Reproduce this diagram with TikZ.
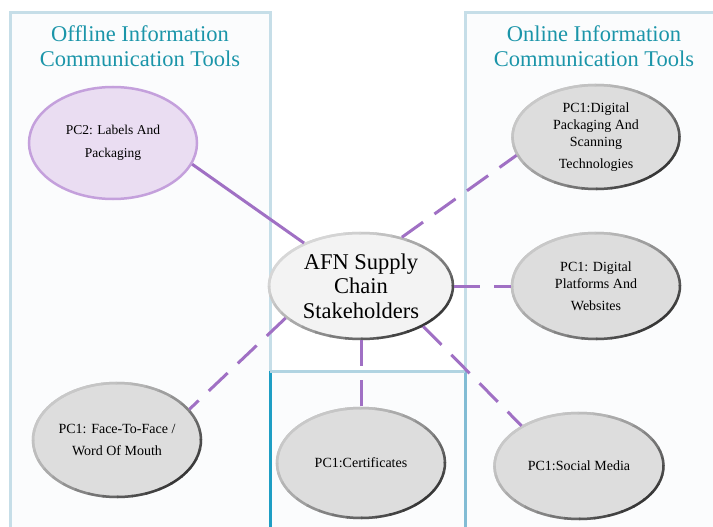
\documentclass[tikz,border=0pt]{standalone}
\usepackage{fontspec}
\setmainfont{Liberation Serif}
\usetikzlibrary{shapes.geometric}
\definecolor{tealtxt}{RGB}{27,149,169}
\definecolor{lnpurple}{RGB}{160,112,196}
\definecolor{boxlight}{RGB}{198,222,232}
\definecolor{boxdark}{RGB}{30,158,196}
\definecolor{boxmid}{RGB}{130,188,212}
\definecolor{boxfill}{RGB}{251,252,253}
\definecolor{pcgray}{RGB}{221,221,221}
\definecolor{pcedge}{RGB}{200,200,200}
\definecolor{pcdark}{RGB}{55,55,55}
\definecolor{lilacfill}{RGB}{234,221,242}
\definecolor{lilacedge}{RGB}{196,160,220}
\definecolor{hubfill}{RGB}{243,243,243}
\definecolor{hubedge}{RGB}{215,215,215}
\tikzset{
  pcnode/.style={ellipse, draw=pcedge, line width=2.5pt, fill=pcgray, inner sep=0pt,
     align=center, font=\fontsize{14}{17}\selectfont},
  title/.style={text=tealtxt, align=center, font=\fontsize{22.5}{25}\selectfont},
  link/.style={draw=lnpurple, line width=3pt},
  dlink/.style={link, dash pattern=on 26pt off 14pt},
  frame/.style={line width=3pt}
}
% #1 node, #2 rx, #3 ry, #4 light colour
\newcommand{\rimshade}[4]{%
  \foreach \a in {0,10,...,350}{%
    \pgfmathsetmacro\dk{100*((1+cos(\a+45))/2)^1.6}%
    \draw[line width=2.5pt, color=pcdark!\dk!#4] (#1.center) ++(\a:#2 and #3)
      arc[start angle=\a, end angle=\a+11, x radius=#2, y radius=#3];
  }%
}
\begin{document}
\begin{tikzpicture}[x=1pt,y=-1pt]
\useasboundingbox (0,0) rectangle (713,527);
% frames
\fill[boxfill] (10,13) rectangle (270,527);
\fill[boxfill] (465,13) rectangle (713,527);
\fill[boxfill] (270,371) rectangle (465,527);
\draw[frame, boxlight] (10,527) -- (10,13) -- (270,13) -- (270,371);
\draw[frame, boxdark] (270,371) -- (270,527);
\draw[frame, boxlight] (465,371) -- (465,13) -- (713,13);
\draw[frame, boxmid] (465,371) -- (465,527);
\draw[frame, boxlight!70!boxmid] (270,371) -- (465,371);
% titles
\node[title] (offt) at (140,46) {Offline Information\\Communication Tools};
\node[title] (onlt) at (594,46) {Online Information\\Communication Tools};
% nodes
\node[ellipse, draw=lilacedge, line width=2.5pt, fill=lilacfill, minimum width=168pt, minimum height=112pt,
      inner sep=0pt, align=center, font=\fontsize{13.5}{23}\selectfont] (pc2) at (113,143) {PC2: Labels And\\Packaging};
\node[ellipse, draw=hubedge, line width=2.5pt, fill=hubfill, minimum width=184pt, minimum height=106pt,
      inner sep=0pt, align=center, font=\fontsize{22.5}{24.5}\selectfont] (hub) at (361,286) {AFN Supply\\Chain\\Stakeholders};
\rimshade{hub}{92pt}{53pt}{hubedge}
\node[pcnode, minimum width=167pt, minimum height=104pt] (dpk) at (596,137) {PC1:Digital\\Packaging And\\Scanning\\[5pt]Technologies};
\rimshade{dpk}{83.5pt}{52pt}{pcedge}
\node[pcnode, minimum width=168pt, minimum height=106pt] (dpl) at (596,286) {PC1: Digital\\Platforms And\\[5pt]Websites};
\rimshade{dpl}{84pt}{53pt}{pcedge}
\node[pcnode, minimum width=168pt, minimum height=114pt, font=\fontsize{14}{22}\selectfont] (f2f) at (117,440) {PC1: Face-To-Face /\\Word Of Mouth};
\rimshade{f2f}{84pt}{57pt}{pcedge}
\node[pcnode, minimum width=168pt, minimum height=110pt] (cert) at (361,463) {PC1:Certificates};
\rimshade{cert}{84pt}{55pt}{pcedge}
\node[pcnode, minimum width=169pt, minimum height=106pt] (soc) at (579,466) {PC1:Social Media};
\rimshade{soc}{84.5pt}{53pt}{pcedge}
% connectors
\path[link] (pc2.-15) -- (hub.143);
\path[dlink] (hub.50) -- (dpk.193);
\path[dlink] (hub.0) -- (dpl.180);
\path[dlink] (hub.-157) -- (f2f.23);
\path[dlink] (hub.south) -- (cert.north);
\path[dlink] (hub.-33) -- (soc.145);
\end{tikzpicture}
\end{document}
